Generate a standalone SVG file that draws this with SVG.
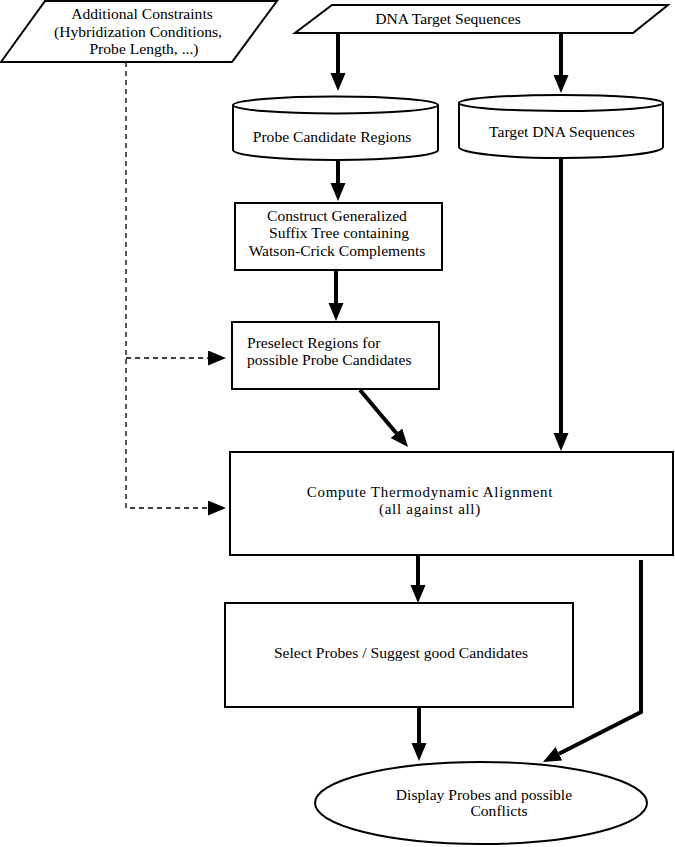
<svg xmlns="http://www.w3.org/2000/svg" width="675" height="847" viewBox="0 0 675 847">
<style>
.shape{fill:#fff;stroke:#000;stroke-width:2}
.t{font-family:"Liberation Serif","Times New Roman",serif;font-size:15.6px;fill:#000}
.m{text-anchor:middle}
.wide{font-size:15px;letter-spacing:0.7px}
.thick{fill:none;stroke:#000;stroke-width:4}
.dash{fill:none;stroke:#000;stroke-width:1.3;stroke-dasharray:5,4}
</style>
<defs>
<marker id="ah" markerUnits="userSpaceOnUse" markerWidth="20" markerHeight="16" refX="0" refY="7.5" orient="auto" viewBox="0 0 20 16">
<path d="M0,0 L18,7.5 L0,15 z" fill="#000"/>
</marker>
</defs>
<rect width="675" height="847" fill="#fff"/>

<g id="additional-constraints">
<polygon class="shape" points="45,1 277,1 232,62 1,62"/>
<text class="t m" x="142" y="19">Additional Constraints</text>
<text class="t m" x="138" y="37">(Hybridization Conditions,</text>
<text class="t m" x="144" y="54">Probe Length, ...)</text>
</g>

<g id="dna-target-sequences">
<polygon class="shape" points="332,5 668,5 633,33 295,33"/>
<text class="t m" x="448" y="24">DNA Target Sequences</text>
</g>

<g id="probe-candidate-regions">
<path class="shape" d="M233,105 L233,150 A102.5,10 0 0 0 438,150 L438,105"/>
<ellipse class="shape" cx="335.5" cy="105" rx="102.5" ry="8.5"/>
<text class="t m" x="332" y="142">Probe Candidate Regions</text>
</g>

<g id="target-dna-sequences">
<path class="shape" d="M459,103 L459,147 A102,11 0 0 0 663,147 L663,103"/>
<ellipse class="shape" cx="561" cy="103" rx="102" ry="8"/>
<text class="t m" x="562" y="137">Target DNA Sequences</text>
</g>

<g id="construct-suffix-tree">
<rect class="shape" x="235" y="203" width="207" height="67"/>
<text class="t m" x="337" y="221">Construct Generalized</text>
<text class="t m" x="339" y="238">Suffix Tree containing</text>
<text class="t m" x="337" y="256">Watson-Crick Complements</text>
</g>

<g id="preselect-regions">
<rect class="shape" x="232" y="322" width="207" height="67"/>
<text class="t" x="247" y="348">Preselect Regions for</text>
<text class="t" x="247" y="365">possible Probe Candidates</text>
</g>

<g id="compute-alignment">
<rect class="shape" x="230" y="452" width="443" height="103"/>
<text class="t m wide" x="430" y="497">Compute Thermodynamic Alignment</text>
<text class="t m wide" x="430" y="514">(all against all)</text>
</g>

<g id="select-probes">
<rect class="shape" x="225" y="603" width="348" height="104"/>
<text class="t m" x="401" y="658">Select Probes / Suggest good Candidates</text>
</g>

<g id="display-probes">
<ellipse class="shape" cx="481" cy="803" rx="166" ry="41"/>
<text class="t m" x="484" y="800">Display Probes and possible</text>
<text class="t m" x="499" y="816">Conflicts</text>
</g>

<g id="connectors">
<line class="thick" x1="338" y1="34" x2="338" y2="73" marker-end="url(#ah)"/>
<line class="thick" x1="561" y1="34" x2="561" y2="75" marker-end="url(#ah)"/>
<line class="thick" x1="338" y1="160" x2="338" y2="183" marker-end="url(#ah)"/>
<line class="thick" x1="336" y1="270" x2="336" y2="303" marker-end="url(#ah)"/>
<line class="thick" x1="360" y1="390" x2="396.4" y2="433.2" marker-end="url(#ah)"/>
<line class="thick" x1="561" y1="158" x2="561" y2="433" marker-end="url(#ah)"/>
<line class="thick" x1="418" y1="556" x2="418" y2="585" marker-end="url(#ah)"/>
<line class="thick" x1="419" y1="707" x2="419" y2="743" marker-end="url(#ah)"/>
<polyline class="thick" points="641,560 641,712 559,753.8" marker-end="url(#ah)"/>
<polyline class="dash" points="126,62 126,508 208,508" marker-end="url(#ah)"/>
<line class="dash" x1="126" y1="358" x2="208" y2="358" marker-end="url(#ah)"/>
</g>
</svg>
